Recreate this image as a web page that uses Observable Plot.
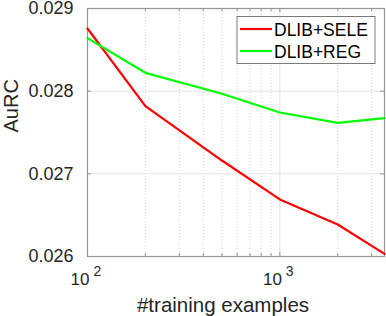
<!DOCTYPE html>
<html><head><meta charset="utf-8">
<script src="https://cdn.jsdelivr.net/npm/d3@7"></script>
<script src="https://cdn.jsdelivr.net/npm/@observablehq/plot@0.6"></script>
<style>body{margin:0;background:#fff}#chart{position:relative;width:386px;height:316px}</style>
</head><body><div id="chart"></div>
<script>
const trainingExamples = [100, 200, 500, 1000, 2000, 3500];
const dlibSele = [0.028758, 0.027818, 0.027161, 0.026690, 0.026387, 0.026032];
const dlibReg  = [0.028641, 0.028222, 0.027968, 0.027742, 0.027617, 0.027673];
const yTicks = [0.026, 0.027, 0.028, 0.029];
const xMajor = [100, 1000];
const xExponents = ["2", "3"];
const xMinor = [200, 300, 400, 500, 600, 700, 800, 900, 2000, 3000];
const seriesNames = ["DLIB+SELE", "DLIB+REG"];
const seriesColors = ["#ff0000", "#00ff00"];

const rows = [];
trainingExamples.forEach((x, i) => {
  rows.push({x, y: dlibSele[i], s: seriesNames[0]});
  rows.push({x, y: dlibReg[i], s: seriesNames[1]});
});

const W = 386, H = 316, mL = 87, mR = 2, mT = 8, mB = 60;
const pH = H - mT - mB;
const axisColor = "#969696";
const font = "Liberation Sans, Arial, Helvetica, sans-serif";

const chart = Plot.plot({
  width: W, height: H,
  marginLeft: mL, marginRight: mR, marginTop: mT, marginBottom: mB,
  style: {fontFamily: font, background: "#fff", color: "#262626"},
  x: {type: "log", domain: [100, 3500], axis: null},
  y: {domain: [0.026, 0.029], axis: null},
  color: {domain: seriesNames, range: seriesColors},
  marks: [
    Plot.ruleX(xMinor, {x: d => d, stroke: "#d4d4d4", strokeDasharray: "1,2", strokeWidth: 1}),
    Plot.ruleX(xMajor, {x: d => d, stroke: "#e3e3e3", strokeWidth: 1}),
    Plot.ruleY(yTicks, {y: d => d, stroke: "#e3e3e3", strokeWidth: 1}),
    Plot.frame({stroke: axisColor, strokeWidth: 1.2}),
    // inward ticks
    Plot.tickX(xMajor, {x: d => d, stroke: axisColor, insetTop: pH - 4}),
    Plot.tickX(xMajor, {x: d => d, stroke: axisColor, insetBottom: pH - 4}),
    Plot.tickX(xMinor, {x: d => d, stroke: axisColor, insetTop: pH - 3}),
    Plot.tickX(xMinor, {x: d => d, stroke: axisColor, insetBottom: pH - 3}),
    Plot.tickY(yTicks, {y: d => d, stroke: axisColor, insetRight: (W - mL - mR) - 4}),
    Plot.tickY(yTicks, {y: d => d, stroke: axisColor, insetLeft: (W - mL - mR) - 4}),
    Plot.axisY(yTicks, {tickSize: 0, tickPadding: 14, tickFormat: d3.format(".3f"), fontSize: 18, label: null}),
    Plot.line(rows, {x: "x", y: "y", stroke: "s", z: "s", strokeWidth: 2.2}),
    // x tick labels 10^n
    Plot.text(xMajor, {x: d => d, frameAnchor: "bottom", text: () => "10", textAnchor: "end", lineAnchor: "bottom", dx: 2, dy: 28, fontSize: 17, fill: "#262626"}),
    Plot.text(xMajor, {x: d => d, frameAnchor: "bottom", text: (d, i) => xExponents[i], textAnchor: "start", lineAnchor: "bottom", dx: 6, dy: 19, fontSize: 14, fill: "#262626"}),
    Plot.text(["#training examples"], {frameAnchor: "bottom", text: d => d, lineAnchor: "bottom", dx: -13, dy: 55.5, fontSize: 20.5, fill: "#262626"}),
    Plot.text(["AuRC"], {frameAnchor: "left", text: d => d, rotate: -90, lineAnchor: "bottom", dx: -70, fontSize: 20, fill: "#262626"})
  ]
});
document.getElementById("chart").appendChild(chart);

// legend
const svg = d3.select(chart);
const lg = svg.append("g").attr("font-family", font).attr("font-size", 17.5).attr("text-anchor", "start");
lg.append("rect").attr("x", 237).attr("y", 16.5).attr("width", 138).attr("height", 47)
  .attr("fill", "#fff").attr("stroke", "#7a7a7a").attr("stroke-width", 1);
seriesNames.forEach((name, i) => {
  const cy = 29 + i * 22;
  lg.append("line").attr("x1", 240).attr("x2", 272).attr("y1", cy).attr("y2", cy)
    .attr("stroke", seriesColors[i]).attr("stroke-width", 2.2);
  lg.append("text").attr("x", 274).attr("y", cy + 6.5).attr("fill", "#000").attr("text-anchor", "start").text(name);
});
</script></body></html>
